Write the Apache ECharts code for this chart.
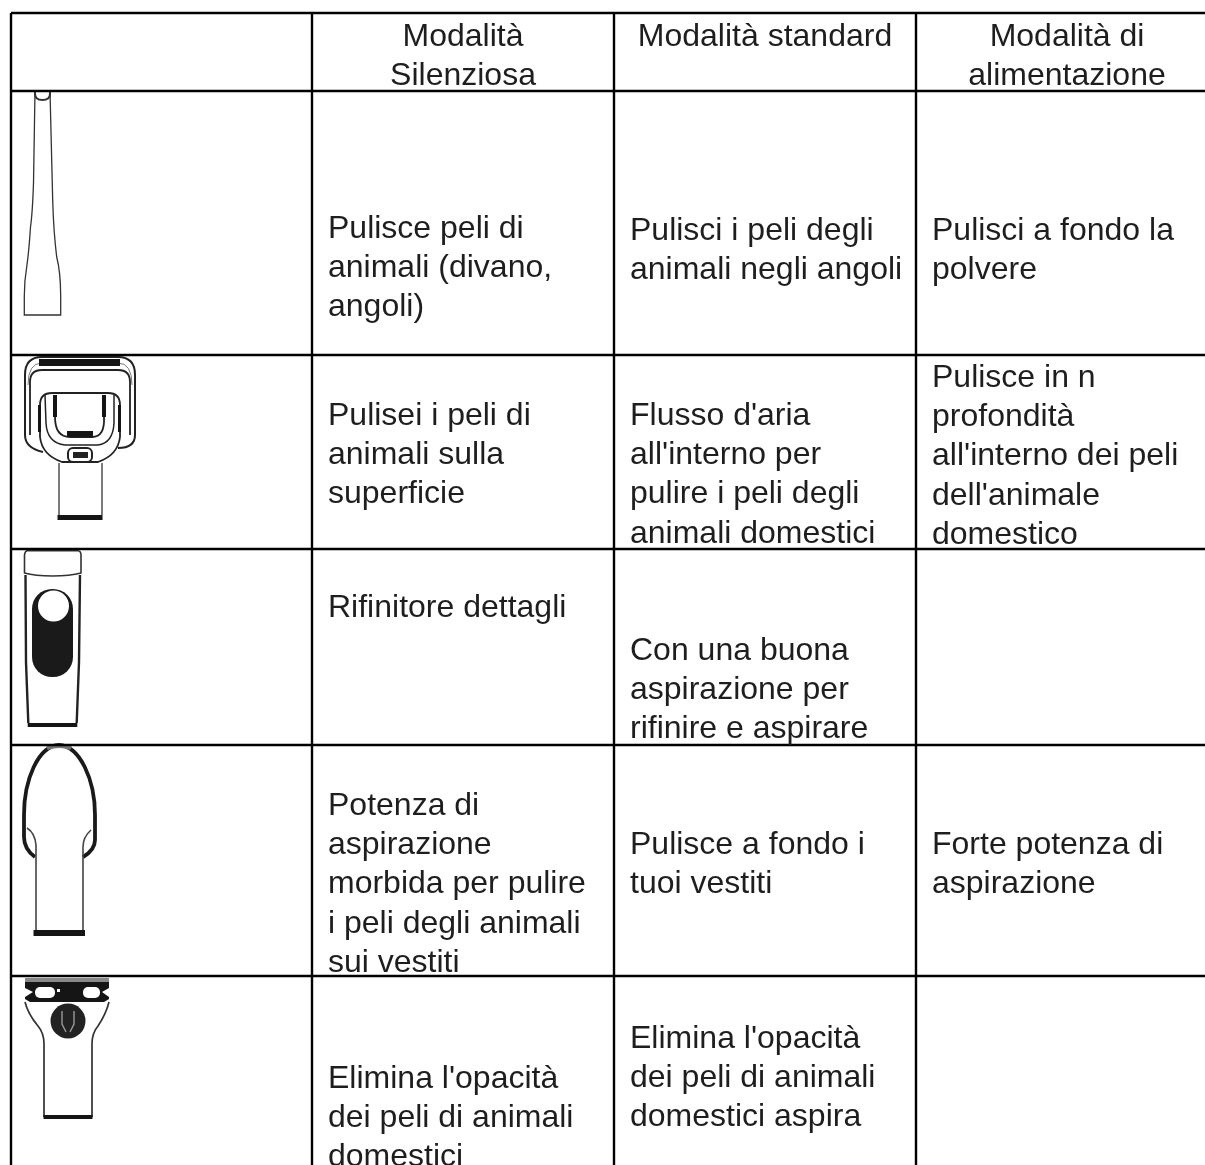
<!DOCTYPE html>
<html><head><meta charset="utf-8">
<style>html,body{margin:0;padding:0;background:#fff}#c{width:1205px;height:1165px}</style>
<script src="https://cdn.jsdelivr.net/npm/echarts@6/dist/echarts.min.js"></script>
</head><body><div id="c"></div>
<script>
// ---- content ----
const headers = ["Modalità\nSilenziosa", "Modalità standard", "Modalità di\nalimentazione"];
const quietMode = [
  "Pulisce peli di\nanimali (divano,\nangoli)",
  "Pulisei i peli di\nanimali sulla\nsuperficie",
  "Rifinitore dettagli",
  "Potenza di\naspirazione\nmorbida per pulire\ni peli degli animali\nsui vestiti",
  "Elimina l'opacità\ndei peli di animali\ndomestici"
];
const standardMode = [
  "Pulisci i peli degli\nanimali negli angoli",
  "Flusso d'aria\nall'interno per\npulire i peli degli\nanimali domestici",
  "Con una buona\naspirazione per\nrifinire e aspirare",
  "Pulisce a fondo i\ntuoi vestiti",
  "Elimina l'opacità\ndei peli di animali\ndomestici aspira"
];
const powerMode = [
  "Pulisci a fondo la\npolvere",
  "Pulisce in n\nprofondità\nall'interno dei peli\ndell'animale\ndomestico",
  "",
  "Forte potenza di\naspirazione",
  ""
];

// ---- layout ----
const colEdges = [11, 312, 614, 916];
const rowEdges = [13, 91, 355, 549, 745, 976];
const pageW = 1205, pageH = 1165;
const headerCenterX = [463, 765, 1067];
const headerFirstY = 37;
const cellTextX = [328, 630, 932];
const firstLineY = [
  [229, 231, 231],
  [416, 416, 378],
  [608, 651, 0],
  [806, 845, 845],
  [1079, 1039, 0]
];
const lineStep = 39.3;
const textFont = '32px "Liberation Sans", Arial, sans-serif';
const textColor = '#1e1e1e';

// ---- text records ----
const textLines = [];
headers.forEach((h, c) => h.split('\n').forEach((t, i) =>
  textLines.push([headerCenterX[c], headerFirstY + i * lineStep, t, 'center'])));
[quietMode, standardMode, powerMode].forEach((col, c) => col.forEach((cell, r) => {
  if (!cell) return;
  cell.split('\n').forEach((t, i) =>
    textLines.push([cellTextX[c], firstLineY[r][c] + i * lineStep, t, 'left']));
}));

// ---- table rules ----
const rules = [];
rowEdges.forEach(y => rules.push([colEdges[0], y, pageW, y]));
colEdges.forEach(x => rules.push([x, rowEdges[0], x, pageH]));

// ---- icons: local drawing, origin at x=0 and the top rule of the row ----
const line = (d, w, c) => ({type:'path', shape:{pathData:d}, style:{fill:'none', stroke:c||'#222', lineWidth:w||1.5}});
const solid = (d, c) => ({type:'path', shape:{pathData:d}, style:{fill:c||'#151515', stroke:null}});
const circle = (x, y, r, c) => ({type:'circle', shape:{cx:x, cy:y, r:r}, style:{fill:c, stroke:null}});
const box = (x, y, w, h, c, r) => ({type:'rect', shape:{x:x, y:y, width:w, height:h, r:r||0}, style:{fill:c||'#151515', stroke:null}});

const iconShapes = [
  [
    line('M35 0 L33.5 92 Q32.5 122 30.5 136 Q29 160 26.7 176 Q24.3 190 24.3 205 L24.3 224 L60.7 224 L60.7 205 Q60.5 180 56.7 166 Q53.5 140 52.7 109 L50 0', 1.3, '#333'),
    line('M35 0 L35 3 Q35 9 42.5 9 Q50 9 50 3 L50 0', 2, '#333')
  ],
  [
    line('M43 97 Q25 93 25 80 L25 20 Q25 2 42 2 L118 2 Q135 2 135 20 L135 80 Q135 93 118 93', 2),
    line('M30 80 L30 27 Q30 15 42 15 L118 15 Q130 15 130 27 L130 80', 1.8),
    line('M28 30 Q28 8 42 8 M132 30 Q132 8 118 8', 1, '#777'),
    box(39, 4, 81, 7, '#151515'),
    line('M40 50 Q40 38 52 38 L108 38 Q120 38 120 50 L120 82 Q118 100 98 107 L62 107 Q42 100 40 82 Z', 1.8),
    line('M45 40 L46 68 Q47 88 65 90 L98 90 Q113 88 114 68 L114 40', 1.5),
    box(53, 40, 4, 22), box(102, 40, 4, 22),
    line('M55 62 Q55 82 70 82 L92 82 Q105 82 104 62', 1.8),
    box(67, 76, 26, 6), box(38, 50, 3, 27), box(118, 50, 3, 27),
    {type:'rect', shape:{x:68, y:93, width:24, height:14, r:5}, style:{fill:'#fff', stroke:'#222', lineWidth:2}},
    box(73, 97, 15, 6, '#222'),
    line('M59 108 L59 160 M102 108 L102 160', 1.4, '#444'),
    box(57.5, 160, 45, 5)
  ],
  [
    line('M27 1.7 L78 1.7 Q81 2 81 6 L81 24 Q70 27 52.5 27 Q35 27 24.5 24 L24.5 6 Q25 2 27 1.7 Z', 1.6, '#333'),
    line('M25.5 26 L26 113 L28.3 174 M80 26 L79 113 L76.7 174', 2.4),
    box(27.7, 174, 49.6, 4),
    box(32, 40, 41, 88, '#1a1a1a', 20),
    circle(53.5, 57, 15.5, '#fff')
  ],
  [
    line('M35 112 Q24 104 24 92 L24 70 C24 35 38 1 59 0 C80 1 95 35 95 70 L95 95 Q95 105 83 112', 3.8, '#1a1a1a'),
    line('M47 3 Q59 -1 71 3', 4, '#777'),
    line('M27 83 Q35 88 36 100 L36 187 M91 85 Q83 92 83 102 L83 187', 1.6, '#444'),
    box(33.5, 185, 51.5, 6)
  ],
  [
    box(25, 2, 84, 4, '#888'),
    solid('M25 6 L109 6 L109 23 L104 26 L30 26 L25 23 Z'),
    box(35, 11, 20, 11, '#fff', 5), box(83, 11, 17, 11, '#fff', 5),
    solid('M25 12 L33 16 L25 21 Z', '#fff'), solid('M109 12 L102 16 L109 21 Z', '#fff'),
    box(57, 13, 3, 3, '#fff'),
    line('M25 26 Q28 38 38 50 Q44 57 44 68 L44 141 M109 26 Q106 38 98 50 Q92 57 92 68 L92 141', 1.7, '#333'),
    circle(68, 45, 17.5, '#222'),
    line('M62 35 L62 48 L66 56 M74 35 L74 48 L70 56', 1.4, '#999'),
    box(43.5, 139, 49, 4)
  ]
];

// ---- chart ----
const chart = echarts.init(document.getElementById('c'), null, {renderer:'canvas'});
chart.setOption({
  animation:false,
  backgroundColor:'#fff',
  grid:{left:0, right:0, top:0, bottom:0},
  xAxis:{type:'value', min:0, max:pageW, show:false},
  yAxis:{type:'value', min:0, max:pageH, inverse:true, show:false},
  series:[
    {
      type:'custom', coordinateSystem:'cartesian2d', silent:true, clip:true,
      encode:{x:0, y:1},
      data:rowEdges.slice(1).map((y, i) => [0, y, i]),
      renderItem:(p, api) => {
        const o = api.coord([0, api.value(1)]);
        return {type:'group', x:o[0], y:o[1], children:iconShapes[api.value(2)]};
      }
    },
    {
      type:'custom', coordinateSystem:'cartesian2d', silent:true, clip:false,
      encode:{x:[0,2], y:[1,3]},
      data:rules,
      renderItem:(p, api) => {
        const a = api.coord([api.value(0), api.value(1)]);
        const b = api.coord([api.value(2), api.value(3)]);
        return {type:'line', shape:{x1:a[0], y1:a[1], x2:b[0], y2:b[1]}, style:{stroke:'#000', lineWidth:2.4}};
      }
    },
    {
      type:'custom', coordinateSystem:'cartesian2d', silent:true, clip:false,
      encode:{x:0, y:1},
      dimensions:['x','y',{name:'t',type:'ordinal'},{name:'a',type:'ordinal'}],
      data:textLines,
      renderItem:(p, api) => {
        const i = p.dataIndex, r = textLines[i];
        const o = api.coord([r[0], r[1]]);
        return {type:'text', x:o[0], y:o[1], style:{text:r[2], font:textFont, fill:textColor, align:r[3], verticalAlign:'middle'}};
      }
    }
  ]
});
</script></body></html>
